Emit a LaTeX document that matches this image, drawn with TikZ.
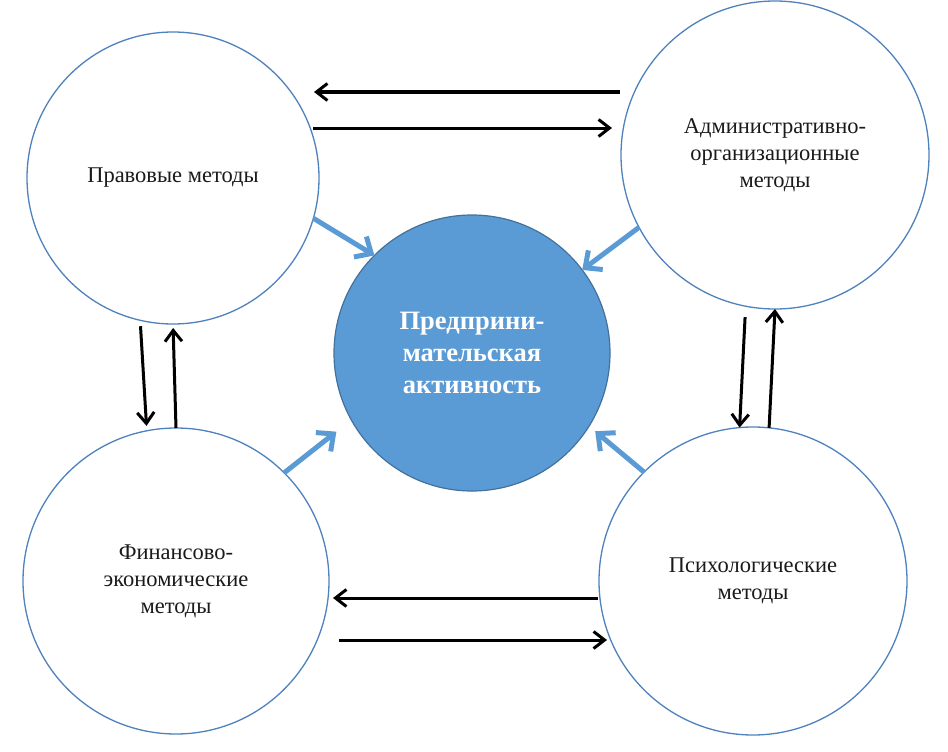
\documentclass[tikz,border=0pt]{standalone}
\usepackage{fontspec}
\setmainfont{Liberation Serif}
\usetikzlibrary{arrows.meta}
\definecolor{ring}{HTML}{4F81BD}
\definecolor{accent}{HTML}{5B9BD5}
\definecolor{coreedge}{HTML}{41719C}
\definecolor{ink}{HTML}{1A1A1A}
\begin{document}
\begin{tikzpicture}[x=1pt,y=-1pt,
  method/.style={circle, draw=ring, line width=1.3pt, fill=white, minimum size=#1,
    inner sep=0pt, outer sep=0pt, align=center, text=ink,
    font=\fontsize{22.5}{27}\selectfont},
  core/.style={circle, draw=coreedge, line width=1.2pt, fill=accent, minimum size=276pt,
    inner sep=0pt, outer sep=0pt, align=center, text=white,
    font=\bfseries\fontsize{26.5}{32}\selectfont},
  blk/.style={line width=3pt, black, -{Straight Barb[length=11pt,width=17pt]}},
  blu/.style={line width=5pt, accent, -{Straight Barb[length=13pt,width=24pt]}}]
\useasboundingbox (0,0) rectangle (948,752);

\node[method=292pt] (tl) at (173,178) {Правовые методы};
\node[method=308pt] (tr) at (775,155) {Административно-\\организационные\\методы};
\node[method=306pt] (bl) at (176,581) {Финансово-\\экономические\\методы};
\node[method=308pt] (br) at (753,581) {Психологические\\методы};
\node[core] (c) at (472,353) {Предприни-\\мательская\\активность};

% horizontal black arrows
\coordinate (h1s) at (620,92);  \coordinate (h1e) at (314,92);
\coordinate (h2s) at (313,128); \coordinate (h2e) at (612,128);
\coordinate (h3s) at (598,598); \coordinate (h3e) at (333,598);
\coordinate (h4s) at (339,640); \coordinate (h4e) at (607,640);
\draw[blk] (h1s) -- (h1e);
\draw[blk] (h2s) -- (h2e);
\draw[blk] (h3s) -- (h3e);
\draw[blk] (h4s) -- (h4e);

% vertical black arrows
\draw[blk, shorten <=6pt, shorten >=5pt] (tl.257) -- (bl.101);
\draw[blk, shorten >=4pt] (bl.90) -- (tl.270);
\draw[blk, shorten <=11pt] (tr.259) -- (br.95);
\draw[blk] (br.84) -- (tr.270);

% blue arrows to the core
\draw[blu] (tl.-16) -- (c.135);
\draw[blu] (tr.208) -- (c.37);
\draw[blu, shorten >=19pt] (bl.45) -- (c.209);
\draw[blu, shorten >=8pt] (br.135) -- (c.-32);
\end{tikzpicture}
\end{document}
